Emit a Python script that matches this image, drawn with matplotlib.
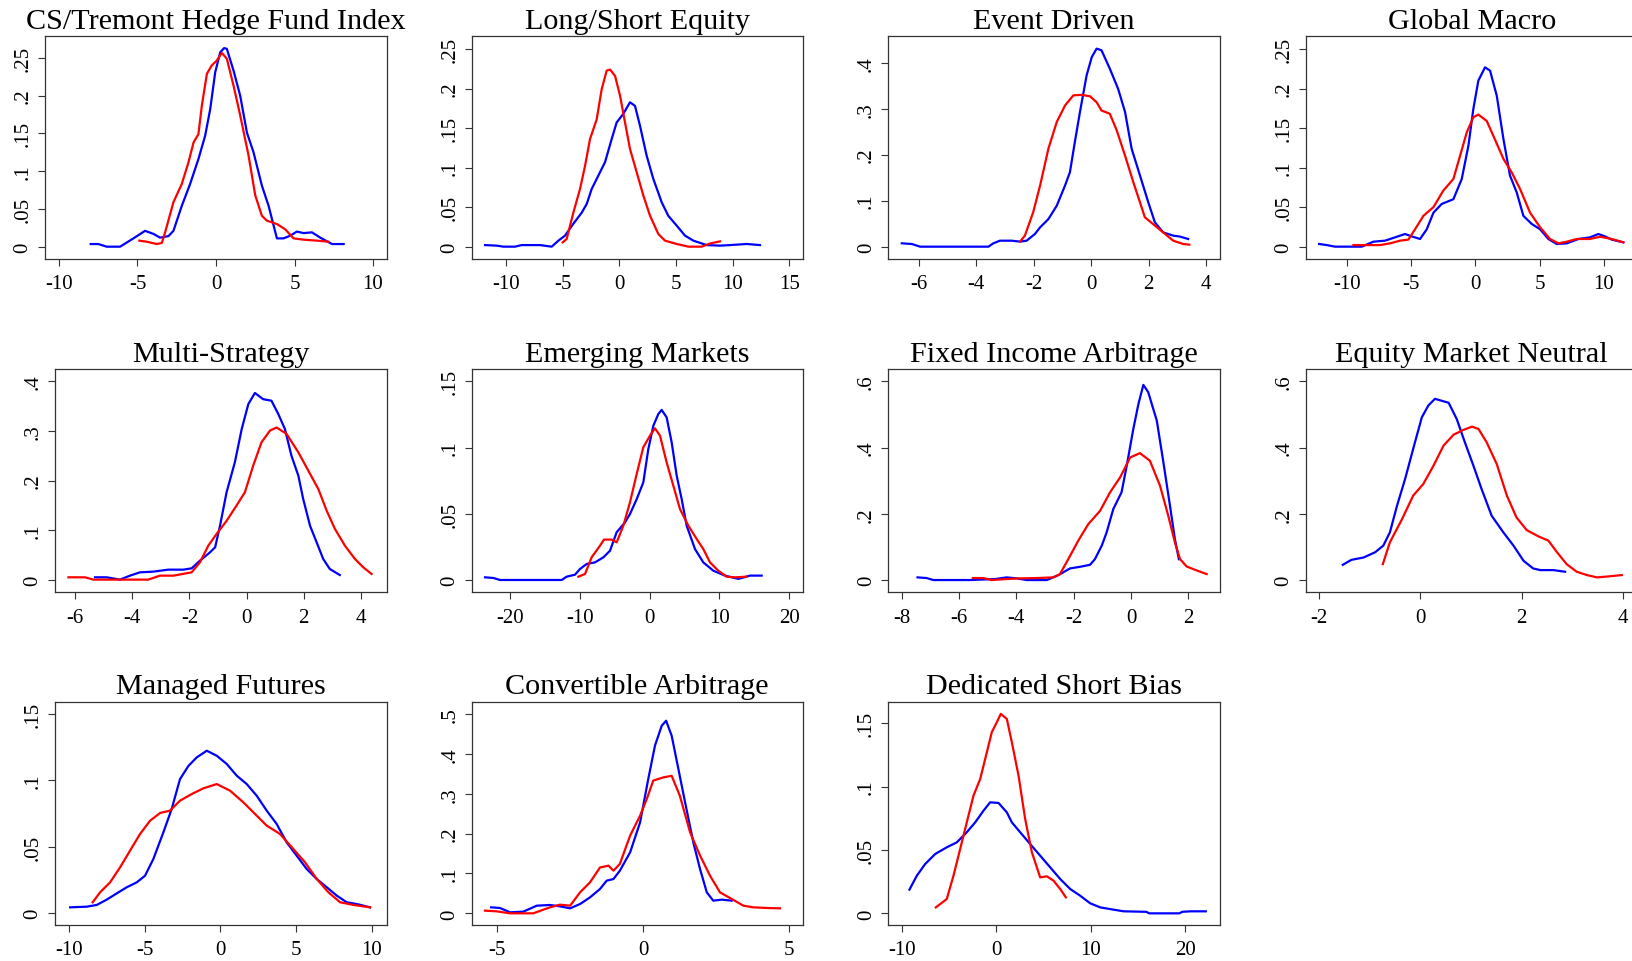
import matplotlib
matplotlib.use("Agg")
import matplotlib.pyplot as plt
from matplotlib.ticker import FuncFormatter

plt.rcParams["font.family"] = ["Liberation Serif", "DejaVu Serif"]

# panel titles
titles = ["CS/Tremont Hedge Fund Index", "Long/Short Equity", "Event Driven", "Global Macro",
          "Multi-Strategy", "Emerging Markets", "Fixed Income Arbitrage", "Equity Market Neutral",
          "Managed Futures", "Convertible Arbitrage", "Dedicated Short Bias"]

# --- CS/Tremont Hedge Fund Index
hfi_blue_x = [-7.98, -7.49, -6.96, -6.11, -5.26, -4.52, -3.99, -3.56, -3.03, -2.71, -2.18, -1.65, -1.12, -0.69,
              -0.37, -0.05, 0.27, 0.52, 0.69, 1.12, 1.54, 1.97, 2.39, 2.92, 3.35, 3.88, 4.30, 4.73, 5.15, 5.58,
              6.11, 6.64, 7.39, 8.13]
hfi_blue_y = [0.0035, 0.0035, 0, 0, 0.011, 0.021, 0.017, 0.012, 0.014, 0.021, 0.054, 0.083, 0.116, 0.147,
              0.182, 0.231, 0.2575, 0.263, 0.262, 0.233, 0.200, 0.151, 0.125, 0.081, 0.054, 0.011, 0.011, 0.0146,
              0.020, 0.018, 0.019, 0.012, 0.0035, 0.0035]
hfi_red_x = [-4.88, -4.41, -3.77, -3.45, -3.24, -2.71, -2.18, -1.75, -1.43, -1.12, -0.90, -0.58, -0.27, 0.05,
             0.37, 0.69, 1.12, 1.54, 2.07, 2.50, 2.92, 3.24, 3.88, 4.41, 4.94, 5.58, 6.43, 7.17]
hfi_red_y = [0.008, 0.0066, 0.0035, 0.005, 0.019, 0.059, 0.083, 0.112, 0.138, 0.149, 0.187, 0.229, 0.240, 0.2465,
             0.2566, 0.249, 0.213, 0.174, 0.121, 0.068, 0.041, 0.0345, 0.030, 0.023, 0.011, 0.0093, 0.008, 0.0066]

# --- Long/Short Equity
lse_blue_x = [-11.85, -10.82, -10.24, -9.21, -8.62, -7.0, -5.97, -5.38, -4.79, -4.06, -3.32, -2.88, -2.44, -1.85,
              -1.26, -0.68, -0.24, 0.35, 0.94, 1.38, 1.82, 2.41, 3.0, 3.74, 4.32, 5.06, 5.79, 6.53, 7.71, 8.88,
              9.76, 11.24, 12.41]
lse_blue_y = [0.002, 0.0013, 0, 0, 0.002, 0.002, 0, 0.0076, 0.014, 0.029, 0.043, 0.054, 0.073, 0.090,
              0.107, 0.136, 0.157, 0.168, 0.1826, 0.178, 0.153, 0.115, 0.0856, 0.056, 0.039, 0.0266, 0.014, 0.0076,
              0.002, 0.0013, 0.002, 0.0034, 0.002]
lse_red_x = [-5.0, -4.65, -4.06, -3.47, -3.03, -2.59, -2.0, -1.56, -1.12, -0.82, -0.38, 0.06, 0.5, 0.94, 1.53,
             2.12, 2.71, 3.44, 4.03, 5.06, 6.09, 7.26, 8.0, 8.88]
lse_red_y = [0.0055, 0.0097, 0.043, 0.073, 0.102, 0.136, 0.161, 0.199, 0.2226, 0.2239, 0.216, 0.191, 0.157, 0.1235,
             0.094, 0.0645, 0.039, 0.016, 0.0076, 0.0034, 0, 0, 0.004, 0.0067]

# --- Event Driven
evd_blue_x = [-6.60, -6.25, -5.96, -4.80, -3.58, -3.41, -3.18, -2.77, -2.48, -2.25, -1.96, -1.78, -1.49, -1.20,
              -0.91, -0.74, -0.57, -0.39, -0.16, 0.02, 0.19, 0.36, 0.65, 0.94, 1.18, 1.41, 1.70, 1.99, 2.22, 2.51,
              2.86, 3.09, 3.38]
evd_blue_y = [0.0073, 0.0058, 0, 0, 0, 0.0073, 0.013, 0.013, 0.011, 0.013, 0.0276, 0.042, 0.060, 0.089,
              0.133, 0.162, 0.227, 0.293, 0.372, 0.412, 0.4305, 0.427, 0.387, 0.343, 0.293, 0.213, 0.155, 0.0966,
              0.053, 0.031, 0.024, 0.022, 0.0167]
evd_red_x = [-2.48, -2.31, -2.02, -1.78, -1.49, -1.20, -0.91, -0.62, -0.33, -0.04, 0.19, 0.36, 0.65, 0.89, 1.18,
             1.47, 1.70, 1.87, 2.16, 2.51, 2.86, 3.21, 3.42]
evd_red_y = [0.011, 0.024, 0.075, 0.133, 0.213, 0.271, 0.307, 0.329, 0.330, 0.327, 0.314, 0.296, 0.289, 0.253,
             0.198, 0.140, 0.0966, 0.064, 0.049, 0.031, 0.013, 0.0058, 0.0044]

# --- Global Macro
gm_blue_x = [-12.15, -11.55, -10.91, -10.0, -8.83, -7.93, -7.02, -6.24, -5.47, -4.95, -4.30, -3.78, -3.26, -2.62,
             -1.71, -1.06, -0.54, -0.16, 0.23, 0.75, 1.14, 1.66, 2.18, 2.69, 3.21, 3.73, 4.38, 5.03, 5.67, 6.32,
             7.10, 8.01, 8.91, 9.56, 10.08, 10.60, 11.5]
gm_blue_y = [0.0034, 0.002, 0, 0, 0, 0.0063, 0.0076, 0.0118, 0.016, 0.013, 0.0097, 0.022, 0.043, 0.054,
             0.060, 0.0856, 0.128, 0.174, 0.210, 0.2268, 0.2226, 0.191, 0.136, 0.0898, 0.0687, 0.039, 0.0287, 0.022,
             0.0097, 0.0034, 0.0042, 0.0097, 0.0118, 0.016, 0.013, 0.0089, 0.0055]
gm_red_x = [-9.48, -8.45, -7.41, -6.63, -5.85, -5.21, -4.69, -4.04, -3.26, -2.49, -1.71, -1.19, -0.67, -0.16, 0.23,
            0.88, 1.40, 2.18, 2.82, 3.47, 4.25, 5.03, 5.80, 6.45, 7.10, 7.88, 8.91, 9.69, 10.60, 11.5]
gm_red_y = [0.002, 0.002, 0.002, 0.0042, 0.0076, 0.0089, 0.022, 0.039, 0.050, 0.071, 0.0856, 0.115, 0.1446, 0.1636,
            0.167, 0.159, 0.140, 0.111, 0.094, 0.073, 0.043, 0.0245, 0.0097, 0.0042, 0.0063, 0.0097, 0.0097,
            0.0126, 0.0097, 0.0055]

# --- Multi-Strategy
ms_blue_x = [-5.30, -4.89, -4.43, -4.08, -3.73, -3.26, -2.74, -2.21, -1.92, -1.63, -1.28, -1.10, -0.93, -0.70,
             -0.41, -0.17, 0.06, 0.29, 0.58, 0.87, 1.11, 1.34, 1.57, 1.81, 1.98, 2.22, 2.45, 2.68, 2.91, 3.26]
ms_blue_y = [0.0054, 0.0054, 0.0007, 0.0087, 0.0154, 0.0168, 0.0208, 0.0208, 0.0235, 0.039, 0.0557, 0.0658,
             0.109, 0.1765, 0.237, 0.304, 0.354, 0.3765, 0.364, 0.361, 0.334, 0.304, 0.250, 0.210, 0.163, 0.109,
             0.0758, 0.0423, 0.0221, 0.010]
ms_red_x = [-6.23, -5.65, -5.36, -4.66, -3.44, -3.03, -2.56, -1.92, -1.63, -1.34, -1.05, -0.70, -0.35, -0.06,
            0.23, 0.52, 0.82, 1.05, 1.40, 1.81, 2.16, 2.51, 2.80, 3.09, 3.44, 3.79, 4.08, 4.37]
ms_red_y = [0.0054, 0.0054, 0.0007, 0.0007, 0.0007, 0.0087, 0.0087, 0.0154, 0.0356, 0.069, 0.0926, 0.119, 0.150,
            0.1765, 0.230, 0.277, 0.301, 0.307, 0.294, 0.257, 0.220, 0.183, 0.1396, 0.1027, 0.069, 0.0423,
            0.0255, 0.0121]

# --- Emerging Markets
em_blue_x = [-23.58, -22.39, -21.43, -17.61, -12.60, -11.89, -10.69, -9.98, -9.02, -7.83, -6.63, -5.68, -4.73,
             -3.53, -2.82, -1.86, -0.91, -0.19, 0.53, 1.24, 1.72, 2.43, 3.15, 3.87, 4.58, 5.30, 6.49, 7.68, 9.12,
             10.79, 12.70, 14.37, 16.04]
em_blue_y = [0.002, 0.0015, 0, 0, 0, 0.0025, 0.004, 0.0083, 0.0121, 0.0133, 0.0171, 0.0221, 0.036, 0.0435,
             0.0498, 0.061, 0.0737, 0.0989, 0.1165, 0.1253, 0.1284, 0.1228, 0.104, 0.0788, 0.0612, 0.041, 0.0234,
             0.0133, 0.007, 0.0033, 0.0008, 0.0033, 0.0033]
em_red_x = [-10.21, -9.26, -8.31, -7.11, -6.54, -5.44, -4.73, -3.77, -2.82, -1.86, -0.91, 0.05, 0.76, 1.48, 2.43,
            3.39, 4.34, 5.54, 6.73, 7.68, 8.64, 9.83, 11.03, 12.22, 13.89]
em_red_y = [0.0025, 0.0045, 0.0171, 0.0259, 0.0305, 0.0305, 0.0284, 0.041, 0.0586, 0.080, 0.1002, 0.109, 0.1145,
            0.109, 0.0888, 0.0712, 0.0536, 0.041, 0.031, 0.0234, 0.0133, 0.007, 0.0025, 0.002, 0.0025]

# --- Fixed Income Arbitrage
fia_blue_x = [-7.45, -7.13, -6.90, -5.62, -4.74, -4.34, -3.99, -3.64, -2.94, -2.53, -2.13, -1.78, -1.43, -1.26,
              -1.02, -0.85, -0.62, -0.33, -0.15, 0.08, 0.26, 0.43, 0.60, 0.90, 1.13, 1.36, 1.53, 1.67]
fia_blue_y = [0.008, 0.006, 0, 0, 0.003, 0.008, 0.005, 0, 0, 0.015, 0.035, 0.040, 0.046, 0.063,
              0.104, 0.144, 0.214, 0.265, 0.345, 0.456, 0.532, 0.589, 0.567, 0.481, 0.355, 0.224, 0.124, 0.063]
fia_red_x = [-5.52, -5.15, -4.86, -4.34, -3.87, -3.29, -2.71, -2.48, -2.19, -1.84, -1.49, -1.08, -0.73, -0.38,
             -0.03, 0.31, 0.66, 1.01, 1.30, 1.53, 1.71, 1.94, 2.23, 2.64]
fia_red_y = [0.006, 0.006, 0, 0.003, 0.005, 0.006, 0.008, 0.018, 0.063, 0.119, 0.169, 0.209, 0.265, 0.310,
             0.370, 0.383, 0.360, 0.285, 0.194, 0.114, 0.063, 0.041, 0.031, 0.018]

# --- Equity Market Neutral
emn_blue_x = [-1.53, -1.36, -1.12, -0.89, -0.73, -0.60, -0.46, -0.30, -0.14, 0.03, 0.16, 0.29, 0.56, 0.72, 0.88,
              1.05, 1.21, 1.41, 1.64, 1.84, 2.04, 2.23, 2.37, 2.63, 2.86]
emn_blue_y = [0.046, 0.061, 0.068, 0.084, 0.104, 0.144, 0.224, 0.305, 0.396, 0.491, 0.527, 0.547, 0.535, 0.486,
              0.416, 0.345, 0.275, 0.194, 0.144, 0.104, 0.058, 0.035, 0.030, 0.030, 0.025]
emn_red_x = [-0.74, -0.60, -0.36, -0.14, 0.06, 0.26, 0.46, 0.66, 0.85, 1.02, 1.15, 1.31, 1.51, 1.71, 1.90, 2.10,
             2.33, 2.53, 2.70, 2.89, 3.09, 3.29, 3.49, 3.72, 3.98]
emn_red_y = [0.048, 0.114, 0.184, 0.255, 0.290, 0.345, 0.406, 0.439, 0.453, 0.463, 0.456, 0.416, 0.350, 0.255,
             0.189, 0.151, 0.132, 0.119, 0.084, 0.048, 0.025, 0.015, 0.008, 0.011, 0.015]

# --- Managed Futures
mf_blue_x = [-9.93, -8.83, -8.17, -7.51, -6.85, -6.19, -5.53, -4.98, -4.43, -3.77, -3.22, -2.67, -2.11, -1.56,
             -0.90, -0.24, 0.42, 1.08, 1.74, 2.40, 3.06, 3.72, 4.38, 5.04, 5.70, 6.37, 7.03, 7.69, 8.35, 9.01, 9.89]
mf_blue_y = [0.0045, 0.005, 0.0063, 0.0103, 0.015, 0.0196, 0.0233, 0.0283, 0.0409, 0.0609, 0.0785, 0.101, 0.111,
             0.1174, 0.1224, 0.1186, 0.1124, 0.1036, 0.0973, 0.0885, 0.0773, 0.0672, 0.0534, 0.0434, 0.0334,
             0.0258, 0.0196, 0.0133, 0.0083, 0.007, 0.0045]
mf_red_x = [-8.44, -7.95, -7.29, -6.63, -5.97, -5.31, -4.65, -3.99, -3.33, -2.67, -1.89, -1.12, -0.24, 0.64, 1.52,
            2.40, 3.06, 3.94, 4.82, 5.59, 6.37, 7.14, 7.91, 8.79, 9.89]
mf_red_y = [0.0083, 0.0158, 0.0233, 0.0346, 0.0472, 0.0597, 0.0697, 0.0755, 0.0773, 0.0848, 0.0898, 0.0941,
            0.0973, 0.0923, 0.0835, 0.0735, 0.066, 0.0597, 0.0484, 0.0384, 0.0258, 0.0158, 0.0083, 0.0063, 0.0045]

# --- Convertible Arbitrage
ca_blue_x = [-5.19, -4.89, -4.54, -4.09, -3.63, -3.18, -2.84, -2.49, -2.15, -1.81, -1.47, -1.24, -1.01, -0.79,
             -0.44, -0.10, 0.18, 0.41, 0.64, 0.79, 0.98, 1.21, 1.44, 1.72, 1.95, 2.18, 2.40, 2.69, 3.03]
ca_blue_y = [0.015, 0.0134, 0.0025, 0.0042, 0.0192, 0.0209, 0.0176, 0.0125, 0.0234, 0.0401, 0.061, 0.082, 0.086,
             0.107, 0.153, 0.228, 0.337, 0.421, 0.4707, 0.4833, 0.4457, 0.362, 0.278, 0.178, 0.111, 0.0527,
             0.0318, 0.0343, 0.0318]
ca_red_x = [-5.40, -5.0, -4.54, -3.75, -3.18, -2.84, -2.49, -2.15, -1.81, -1.47, -1.18, -1.01, -0.79, -0.44,
            -0.10, 0.13, 0.35, 0.69, 0.98, 1.26, 1.61, 1.95, 2.29, 2.63, 3.03, 3.43, 3.77, 4.23, 4.68]
ca_red_y = [0.0067, 0.005, 0, 0, 0.015, 0.0217, 0.0192, 0.0527, 0.0778, 0.115, 0.1196, 0.107, 0.124, 0.195,
            0.245, 0.287, 0.333, 0.341, 0.345, 0.295, 0.203, 0.145, 0.0945, 0.0527, 0.036, 0.0192, 0.015, 0.0134,
            0.0125]

# --- Dedicated Short Bias
dsb_blue_x = [-9.18, -8.40, -7.52, -6.46, -5.23, -4.17, -3.11, -2.22, -1.34, -0.64, 0.25, 1.13, 1.66, 2.54,
              3.60, 4.66, 5.72, 6.78, 7.84, 8.90, 9.96, 11.02, 12.43, 13.5, 15.9, 16.2, 19.4, 19.7, 20.6, 22.2]
dsb_blue_y = [0.0187, 0.0297, 0.0389, 0.0468, 0.0521, 0.056, 0.064, 0.0718, 0.081, 0.0876, 0.0871, 0.0797,
              0.0718, 0.064, 0.0547, 0.0455, 0.0363, 0.0271, 0.0192, 0.0139, 0.0079, 0.0047, 0.0029, 0.0016,
              0.0012, 0, 0, 0.0012, 0.0016, 0.0016]
dsb_red_x = [-6.39, -5.23, -4.52, -3.81, -3.11, -2.40, -1.69, -0.99, -0.46, 0.07, 0.49, 1.13, 1.66, 2.37, 3.07,
             3.78, 4.66, 5.37, 6.07, 6.78, 7.38]
dsb_red_y = [0.0047, 0.0113, 0.0297, 0.0508, 0.0718, 0.0929, 0.106, 0.127, 0.143, 0.1508, 0.1574, 0.1534, 0.135,
             0.1087, 0.0745, 0.0482, 0.0284, 0.0292, 0.0258, 0.0192, 0.0126]

blue_series = [(hfi_blue_x, hfi_blue_y), (lse_blue_x, lse_blue_y), (evd_blue_x, evd_blue_y), (gm_blue_x, gm_blue_y),
               (ms_blue_x, ms_blue_y), (em_blue_x, em_blue_y), (fia_blue_x, fia_blue_y), (emn_blue_x, emn_blue_y),
               (mf_blue_x, mf_blue_y), (ca_blue_x, ca_blue_y), (dsb_blue_x, dsb_blue_y)]
red_series = [(hfi_red_x, hfi_red_y), (lse_red_x, lse_red_y), (evd_red_x, evd_red_y), (gm_red_x, gm_red_y),
              (ms_red_x, ms_red_y), (em_red_x, em_red_y), (fia_red_x, fia_red_y), (emn_red_x, emn_red_y),
              (mf_red_x, mf_red_y), (ca_red_x, ca_red_y), (dsb_red_x, dsb_red_y)]

# axis ticks per panel
x_ticks = [[-10, -5, 0, 5, 10], [-10, -5, 0, 5, 10, 15], [-6, -4, -2, 0, 2, 4], [-10, -5, 0, 5, 10],
           [-6, -4, -2, 0, 2, 4], [-20, -10, 0, 10, 20], [-8, -6, -4, -2, 0, 2], [-2, 0, 2, 4],
           [-10, -5, 0, 5, 10], [-5, 0, 5], [-10, 0, 10, 20]]
y_ticks = [[0, .05, .1, .15, .2, .25], [0, .05, .1, .15, .2, .25], [0, .1, .2, .3, .4], [0, .05, .1, .15, .2, .25],
           [0, .1, .2, .3, .4], [0, .05, .1, .15], [0, .2, .4, .6], [0, .2, .4, .6],
           [0, .05, .1, .15], [0, .1, .2, .3, .4, .5], [0, .05, .1, .15]]

# axis ranges (Stata-style padding)
x_lims = [(-10.89, 10.89), (-13.03, 16.18), (-7.07, 4.49), (-13.19, 12.64), (-6.70, 4.90), (-25.49, 21.92),
          (-8.47, 3.105), (-2.263, 4.30), (-10.93, 10.99), (-5.854, 5.458), (-11.42, 23.7)]
y_lims = [(-0.0163, 0.279), (-0.0156, 0.2664), (-0.0268, 0.458), (-0.0156, 0.2664), (-0.0248, 0.4248),
          (-0.0093, 0.1593), (-0.037, 0.637), (-0.037, 0.637), (-0.0088, 0.1593), (-0.0293, 0.531), (-0.0092, 0.167)]

# axes boxes in pixels: left, top, right, bottom
W, H = 1632, 962
boxes = [(45, 37, 387, 260), (471.7, 37, 802.7, 260), (888.3, 37, 1220, 260), (1305.7, 37, 1638, 260),
         (55, 370, 386.7, 593.3), (471.7, 370, 802.7, 593.3), (888.3, 370, 1220, 593.3), (1305.7, 370, 1638, 593.3),
         (55, 702.7, 386.7, 926), (471.7, 702.7, 802.7, 926), (888.3, 702.7, 1220, 926)]


def stata_fmt(v, pos=None):
    s = ("%g" % round(v, 4))
    if s.startswith("0."):
        s = s[1:]
    return s


fig = plt.figure(figsize=(W / 100, H / 100), dpi=100)
fig.patch.set_facecolor("white")

for i, title in enumerate(titles):
    l, t, r, b = boxes[i]
    ax = fig.add_axes([l / W, 1 - b / H, (r - l) / W, (b - t) / H])
    bx, by = blue_series[i]
    rx, ry = red_series[i]
    ax.plot(bx, by, color="#0000FF", linewidth=1.6)
    ax.plot(rx, ry, color="#FF0000", linewidth=1.6)
    ax.set_xlim(*x_lims[i])
    ax.set_ylim(*y_lims[i])
    ax.set_xticks(x_ticks[i])
    ax.set_yticks(y_ticks[i])
    ax.xaxis.set_major_formatter(FuncFormatter(stata_fmt))
    ax.yaxis.set_major_formatter(FuncFormatter(stata_fmt))
    ax.tick_params(axis="both", direction="out", length=5, width=0.8, color="#333333",
                   labelsize=15, pad=4)
    ax.tick_params(axis="x", pad=6)
    for lab in ax.get_yticklabels():
        lab.set_rotation(90)
        lab.set_va("center")
    for sp in ax.spines.values():
        sp.set_color("#333333")
        sp.set_linewidth(0.9)
    ax.set_title(title, fontsize=21.7, pad=6)

fig.savefig("out.png", dpi=100, facecolor="white")
